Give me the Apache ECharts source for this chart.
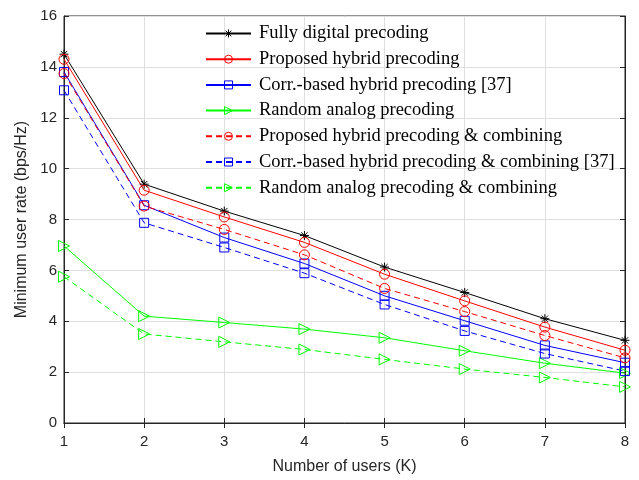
<!DOCTYPE html>
<html>
<head>
<meta charset="utf-8">
<script src="https://cdn.jsdelivr.net/npm/echarts@6/dist/echarts.min.js"></script>
<style>
  html, body { margin: 0; padding: 0; background: #fff; }
  #chart { width: 639px; height: 480px; }
</style>
</head>
<body>
<div id="chart"></div>
<script>
// Number of users K
const users = [1, 2, 3, 4, 5, 6, 7, 8];

// Minimum user rate (bps/Hz) for each scheme
const fullyDigital        = [14.50, 9.39, 8.33, 7.37, 6.13, 5.13, 4.10, 3.25];
const proposedHybrid      = [14.30, 9.15, 8.10, 7.10, 5.85, 4.80, 3.77, 2.86];
const corrHybrid          = [13.80, 8.56, 7.29, 6.27, 5.00, 4.02, 3.05, 2.37];
const randomAnalog        = [6.96, 4.20, 3.95, 3.69, 3.35, 2.84, 2.35, 1.96];
const proposedHybridComb  = [13.74, 8.53, 7.61, 6.61, 5.29, 4.38, 3.44, 2.56];
const corrHybridComb      = [13.08, 7.87, 6.90, 5.89, 4.66, 3.62, 2.73, 2.04];
const randomAnalogComb    = [5.75, 3.50, 3.19, 2.89, 2.50, 2.12, 1.79, 1.42];

const seriesNames = [
  'Fully digital precoding',
  'Proposed hybrid precoding',
  'Corr.-based hybrid precoding [37]',
  'Random analog precoding',
  'Proposed hybrid precoding & combining',
  'Corr.-based hybrid precoding & combining [37]',
  'Random analog precoding & combining'
];

const yTicks = [0, 2, 4, 6, 8, 10, 12, 14, 16];

// eight-armed asterisk marker
const STAR = 'path://M0,-1L0,1M-1,0L1,0M-0.707,-0.707L0.707,0.707M-0.707,0.707L0.707,-0.707';
const AXIS = '#262626';
const GREEN = '#00ff00';
const HOLLOW = 'rgba(0,0,0,0)';

function pairs(vals) {
  return users.map((u, i) => [u, vals[i]]);
}

function makeSeries(name, vals, color, symbol, size, dashed, rotate) {
  return {
    name: name,
    type: 'line',
    data: pairs(vals),
    symbol: symbol,
    symbolSize: size,
    symbolRotate: rotate || 0,
    showAllSymbol: true,
    animation: false,
    lineStyle: { color: color, width: 1, type: dashed ? [6, 4] : 'solid' },
    itemStyle: {
      color: symbol === STAR ? color : HOLLOW,
      borderColor: color,
      borderWidth: 1
    },
    emphasis: { disabled: true }
  };
}

const seriesColors = ['#000000', '#ff0000', '#0000ff', GREEN, '#ff0000', '#0000ff', GREEN];

const chart = echarts.init(document.getElementById('chart'), null, { renderer: 'canvas' });

const option = {
  backgroundColor: '#fff',
  animation: false,
  grid: {
    left: 64, right: 14, top: 16, bottom: 57,
    show: true, borderColor: AXIS, borderWidth: 1, backgroundColor: 'transparent'
  },
  legend: {
    orient: 'vertical',
    left: 200,
    top: 19,
    itemWidth: 45,
    itemHeight: 10,
    itemGap: 6.7,
    textStyle: {
      fontFamily: 'Liberation Serif', fontSize: 18.5, color: '#000',
      padding: [0, 0, 0, 3]
    },
    data: seriesNames.map((n, i) => ({
      name: n,
      itemStyle: {
        color: i === 0 ? seriesColors[i] : HOLLOW,
        borderColor: seriesColors[i],
        borderWidth: 1
      }
    })),
    selectedMode: false
  },
  xAxis: [{
    type: 'value',
    min: 1, max: 8, interval: 1,
    name: 'Number of users (K)',
    nameLocation: 'middle',
    nameGap: 36,
    nameTextStyle: { fontFamily: 'Liberation Sans', fontSize: 16, color: '#262626' },
    axisLine: { show: true, lineStyle: { color: AXIS } },
    axisTick: { show: true, inside: true, length: 5, lineStyle: { color: AXIS } },
    axisLabel: { fontFamily: 'Liberation Sans', fontSize: 15, color: '#262626', margin: 11 },
    splitLine: { show: true, lineStyle: { color: '#dfdfdf', width: 1 } }
  }, {
    type: 'value', position: 'top',
    min: 1, max: 8, interval: 1,
    axisLine: { show: true, lineStyle: { color: AXIS } },
    axisTick: { show: true, inside: true, length: 5, lineStyle: { color: AXIS } },
    axisLabel: { show: false },
    splitLine: { show: false }
  }],
  yAxis: [{
    type: 'value',
    min: 0, max: 16, interval: 2,
    name: 'Minimum user rate (bps/Hz)',
    nameLocation: 'middle',
    nameGap: 32,
    nameTextStyle: { fontFamily: 'Liberation Sans', fontSize: 16, color: '#262626' },
    axisLine: { show: true, lineStyle: { color: AXIS } },
    axisTick: { show: true, inside: true, length: 5, lineStyle: { color: AXIS } },
    axisLabel: {
      fontFamily: 'Liberation Sans', fontSize: 15, color: '#262626', margin: 7,
      formatter: v => (yTicks.indexOf(v) >= 0 ? String(v) : '')
    },
    splitLine: { show: true, lineStyle: { color: '#dfdfdf', width: 1 } }
  }, {
    type: 'value', position: 'right',
    min: 0, max: 16, interval: 2,
    axisLine: { show: true, lineStyle: { color: AXIS } },
    axisTick: { show: true, inside: true, length: 5, lineStyle: { color: AXIS } },
    axisLabel: { show: false },
    splitLine: { show: false }
  }],
  series: [
    makeSeries(seriesNames[0], fullyDigital, seriesColors[0], STAR, 9, false),
    makeSeries(seriesNames[1], proposedHybrid, seriesColors[1], 'circle', 10, false),
    makeSeries(seriesNames[2], corrHybrid, seriesColors[2], 'rect', 9, false),
    makeSeries(seriesNames[3], randomAnalog, seriesColors[3], 'triangle', 11, false, -90),
    makeSeries(seriesNames[4], proposedHybridComb, seriesColors[4], 'circle', 10, true),
    makeSeries(seriesNames[5], corrHybridComb, seriesColors[5], 'rect', 9, true),
    makeSeries(seriesNames[6], randomAnalogComb, seriesColors[6], 'triangle', 11, true, -90)
  ]
};

chart.setOption(option);
</script>
</body>
</html>
